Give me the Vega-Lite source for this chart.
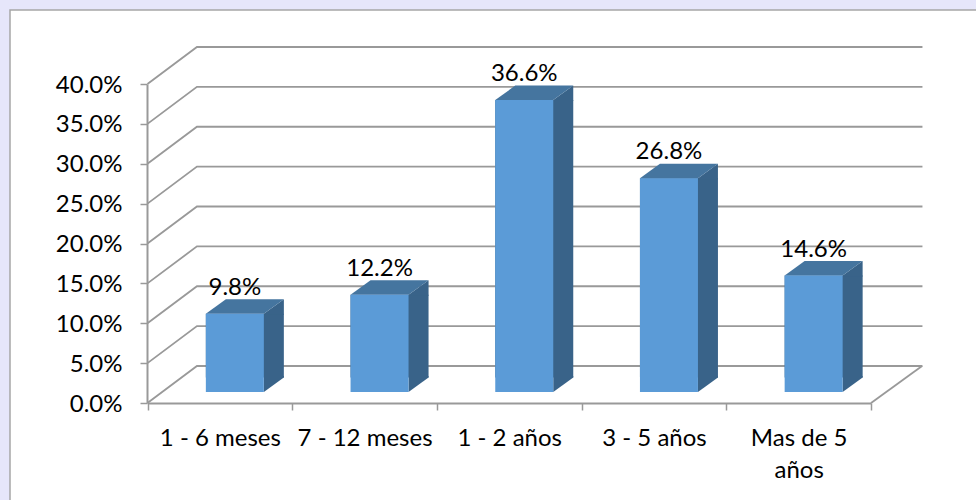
{
  "$schema": "https://vega.github.io/schema/vega-lite/v6.json",
  "autosize": {"type": "none"},
  "background": "#E6E6FA",
  "padding": {"left": 10, "top": 10, "right": 0, "bottom": 0},
  "width": 970,
  "height": 494,
  "view": {"fill": "#FFFFFF", "stroke": "#A6A6A6", "strokeWidth": 1.5},
  "data": {
    "values": [
      {"periodo": "1 - 6 meses", "valor": 0.098},
      {"periodo": "7 - 12 meses", "valor": 0.122},
      {"periodo": "1 - 2 años", "valor": 0.366},
      {"periodo": "3 - 5 años", "valor": 0.268},
      {"periodo": "Mas de 5 años", "valor": 0.146}
    ]
  },
  "encoding": {
    "x": {
      "field": "periodo",
      "type": "nominal",
      "sort": null,
      "title": null,
      "scale": {
        "domain": ["1 - 6 meses", "7 - 12 meses", "1 - 2 años", "3 - 5 años", "Mas de 5 años"],
        "range": [137.5, 861],
        "padding": 0
      },
      "axis": {
        "offset": -101,
        "labelAngle": 0,
        "labelFont": "Lato",
        "labelFontSize": 24,
        "labelColor": "#000000",
        "labelPadding": 16,
        "labelLineHeight": 32,
        "labelLimit": 300,
        "labelOverlap": false,
        "labelExpr": "datum.label == 'Mas de 5 años' ? ['Mas de 5', 'años'] : datum.label",
        "tickBand": "extent",
        "tickSize": 7,
        "tickWidth": 1.5,
        "tickColor": "#999999",
        "domainColor": "#999999",
        "domainWidth": 2
      }
    },
    "y": {
      "field": "valor",
      "type": "quantitative",
      "title": null,
      "scale": {"domain": [0, 0.4], "range": [393, 74], "nice": false},
      "axis": {
        "offset": -137,
        "values": [0, 0.05, 0.1, 0.15, 0.2, 0.25, 0.3, 0.35, 0.4],
        "format": ".1%",
        "grid": false,
        "labelFont": "Lato",
        "labelFontSize": 24,
        "labelColor": "#000000",
        "labelPadding": 18,
        "labelOffset": 1,
        "tickSize": 7,
        "tickWidth": 1.5,
        "tickColor": "#999999",
        "domainColor": "#999999",
        "domainWidth": 2
      }
    }
  },
  "layer": [
    {
      "description": "Side wall and back wall gridlines, one polyline per tick, anchored on the front wall",
      "data": {"values": [{"t": 0}, {"t": 0.05}, {"t": 0.1}, {"t": 0.15}, {"t": 0.2}, {"t": 0.25}, {"t": 0.3}, {"t": 0.35}, {"t": 0.4}]},
      "mark": {
        "type": "point",
        "shape": "M-72.4,0 L-22.9,-37 L702.6,-37",
        "size": 4,
        "filled": false,
        "stroke": "#999999",
        "strokeWidth": 1.8,
        "opacity": 1
      },
      "encoding": {
        "x": {"datum": "1 - 6 meses", "type": "nominal"},
        "y": {"field": "t", "type": "quantitative"}
      }
    },
    {
      "description": "Right edge of the floor",
      "data": {"values": [{"t": 0}]},
      "mark": {
        "type": "point",
        "shape": "M72.4,0 L123.4,-37",
        "size": 4,
        "filled": false,
        "stroke": "#999999",
        "strokeWidth": 1.8,
        "opacity": 1
      },
      "encoding": {
        "x": {"datum": "Mas de 5 años", "type": "nominal"},
        "y": {"field": "t", "type": "quantitative"}
      }
    },
    {
      "description": "Dark body behind each front face, forming the side face",
      "mark": {"type": "bar", "color": "#396389", "width": 78, "xOffset": 25, "yOffset": -11, "y2Offset": -25.5},
      "encoding": {"y2": {"datum": 0}}
    },
    {
      "description": "Upper wedge of the side face",
      "mark": {"type": "point", "shape": "M44,-10 L44,-11 L64,-25.5 L64,-10 Z", "size": 4, "filled": true, "color": "#396389", "opacity": 1, "strokeWidth": 0}
    },
    {
      "description": "Top face",
      "mark": {"type": "point", "shape": "M-14,-11 L44,-11 L64,-25.5 L6,-25.5 Z", "size": 4, "filled": true, "color": "#45759F", "opacity": 1, "strokeWidth": 0}
    },
    {
      "description": "Lower wedge of the side face, resting on the floor",
      "data": {"values": [{"periodo": "1 - 6 meses", "t": 0}, {"periodo": "7 - 12 meses", "t": 0}, {"periodo": "1 - 2 años", "t": 0}, {"periodo": "3 - 5 años", "t": 0}, {"periodo": "Mas de 5 años", "t": 0}]},
      "mark": {"type": "point", "shape": "M44,-27 L64,-27 L64,-25.5 L44,-11 Z", "size": 4, "filled": true, "color": "#396389", "opacity": 1, "strokeWidth": 0},
      "encoding": {"y": {"field": "t", "type": "quantitative"}}
    },
    {
      "description": "Front face",
      "mark": {"type": "bar", "color": "#5B9BD7", "width": 58, "xOffset": 15, "yOffset": -11, "y2Offset": -11},
      "encoding": {"y2": {"datum": 0}}
    },
    {
      "description": "Value labels",
      "mark": {"type": "text", "font": "Lato", "fontSize": 24, "color": "#000000", "dx": 15, "dy": -37, "baseline": "middle"},
      "encoding": {"text": {"field": "valor", "type": "quantitative", "format": ".1%"}}
    }
  ],
  "config": {"axis": {"labelFontWeight": "normal"}}
}
